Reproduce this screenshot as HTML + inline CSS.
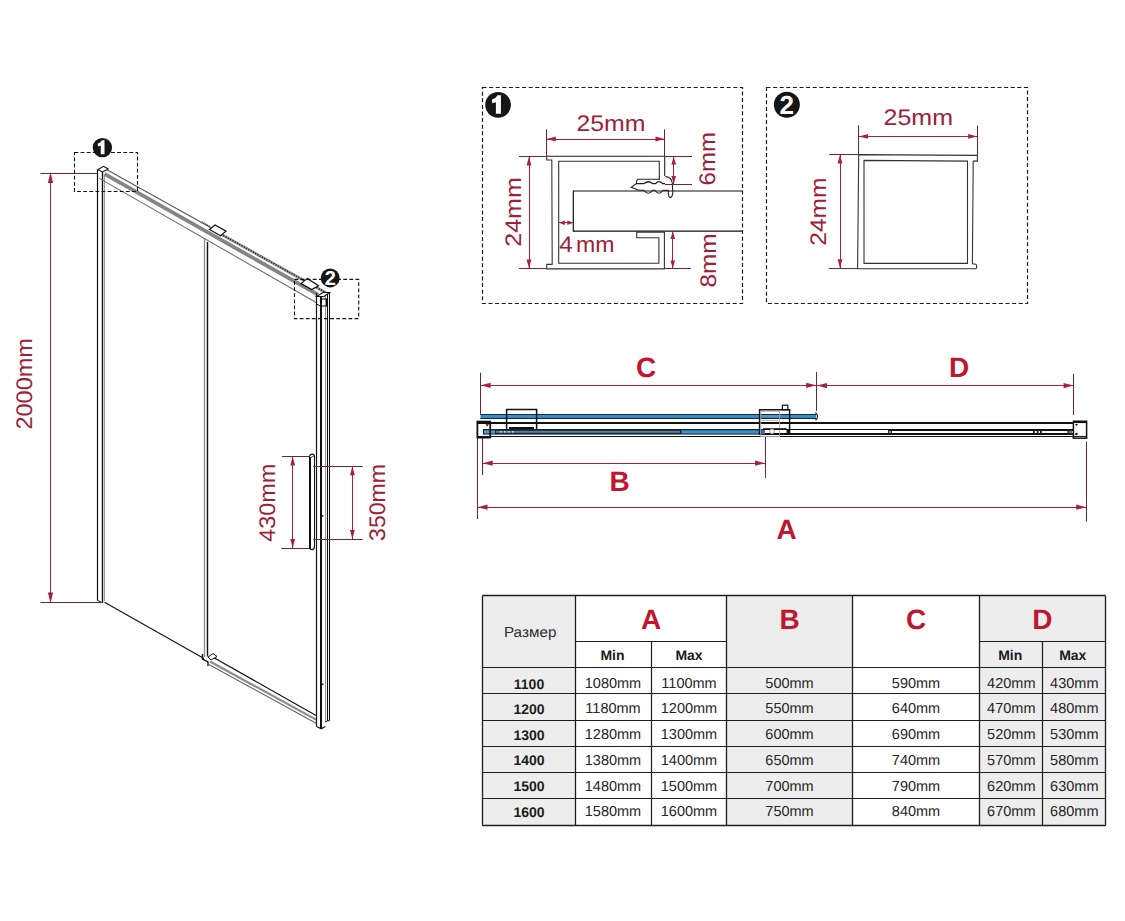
<!DOCTYPE html>
<html><head><meta charset="utf-8"><title>Shower door dimensions</title>
<style>
html,body{margin:0;padding:0;background:#fff;}
svg{display:block;}
text{font-family:"Liberation Sans",sans-serif;text-rendering:geometricPrecision;}
</style></head><body>
<svg width="1125" height="921" viewBox="0 0 1125 921">
<rect x="0" y="0" width="1125" height="921" fill="#fff"/>
<line x1="40.5" y1="173.5" x2="97.7" y2="173.5" stroke="#70243a" stroke-width="1.1" />
<line x1="50.5" y1="173" x2="50.5" y2="603" stroke="#a8213a" stroke-width="1" />
<line x1="40.5" y1="602.5" x2="101" y2="602.5" stroke="#70243a" stroke-width="1.1" />
<polygon points="50.5,172 47.9,183 53.1,183" fill="#a8213a" stroke="none" stroke-width="1"/>
<polygon points="50.5,603.5 47.9,592.5 53.1,592.5" fill="#a8213a" stroke="none" stroke-width="1"/>
<text x="31.8" y="383.8" font-size="22.5" fill="#9c2139" font-weight="normal" text-anchor="middle" textLength="91.5" lengthAdjust="spacingAndGlyphs" transform="rotate(-90 31.8 383.8)" >2000mm</text>
<line x1="97.5" y1="170" x2="97.5" y2="600.5" stroke="#111" stroke-width="1.2" />
<line x1="102.5" y1="172" x2="102.5" y2="603" stroke="#111" stroke-width="1.4" />
<line x1="104.5" y1="176" x2="104.5" y2="601" stroke="#999" stroke-width="1" />
<path d="M97.7,169.8 L103.6,166.3 L108.2,169 L102.6,172 Z" fill="#fff" stroke="#111" stroke-width="1.1" />
<path d="M97.5,600.3 L101.5,602.3" fill="none" stroke="#111" stroke-width="1" />
<line x1="104.5" y1="602.3" x2="204" y2="658.5" stroke="#111" stroke-width="1.1" />
<line x1="106" y1="169.208" x2="216" y2="230.588" stroke="#5a5a5a" stroke-width="1.1" />
<line x1="104.5" y1="173.86700000000002" x2="318" y2="294.70799999999997" stroke="#858585" stroke-width="3.8" />
<line x1="99" y1="178.137" x2="317" y2="303.051" stroke="#6f6f6f" stroke-width="1.1" />
<line x1="212" y1="229.156" x2="326" y2="292.76800000000003" stroke="#9a9a9a" stroke-width="2.8"/>
<line x1="212" y1="229.156" x2="326" y2="292.76800000000003" stroke="#1a1a1a" stroke-width="1.5" stroke-dasharray="1.1,1.5"/>
<path d="M209.5,229.5 L215,225 L226,231.2 L220.5,235.7 Z" fill="#fff" stroke="#111" stroke-width="1.2" />
<line x1="201.7" y1="222" x2="209.5" y2="226.5" stroke="#333" stroke-width="2" stroke-dasharray="1,1"/>
<path d="M301,283.6 L307.4,278.4 L318.5,285.7 L311.7,289.5 Z" fill="#fff" stroke="#111" stroke-width="1.2" />
<line x1="204.5" y1="239" x2="204.5" y2="657" stroke="#8a8a8a" stroke-width="1.3" />
<line x1="207.5" y1="242" x2="207.5" y2="656.5" stroke="#111" stroke-width="1.4" />
<path d="M202.5,654 L202.5,659 L208,662 L208,666" fill="none" stroke="#111" stroke-width="1.4" />
<path d="M208,657 L213,653.5 L217,656.5 L211,660 Z" fill="#fff" stroke="#111" stroke-width="1" />
<line x1="214.4" y1="657.9" x2="316" y2="715.6" stroke="#111" stroke-width="1.2" />
<line x1="210" y1="661.5" x2="316" y2="719.6" stroke="#8c8c8c" stroke-width="2.2" />
<line x1="207.9" y1="663.9" x2="316" y2="723.2" stroke="#666" stroke-width="1.1" />
<line x1="316.5" y1="293" x2="316.5" y2="726.5" stroke="#111" stroke-width="1.2" />
<line x1="321.0" y1="296" x2="321.0" y2="728.5" stroke="#111" stroke-width="2" />
<line x1="325.5" y1="296" x2="325.5" y2="722" stroke="#999" stroke-width="1" />
<line x1="327.5" y1="293" x2="327.5" y2="721" stroke="#111" stroke-width="1.1" />
<line x1="329.5" y1="292" x2="329.5" y2="720.5" stroke="#111" stroke-width="1" />
<path d="M316.6,726.5 L321.2,728.8 L325.4,726.5" fill="none" stroke="#111" stroke-width="1.1" />
<path d="M325.4,722 L327.6,720.8 L329.6,720.6" fill="none" stroke="#111" stroke-width="1" />
<path d="M316.6,296.5 L323,292.5 L329.6,292.5 L324,296.5 Z" fill="#fff" stroke="#111" stroke-width="1.1" />
<rect x="320.5" y="299" width="6" height="7" fill="none" stroke="#111" stroke-width="1.1" />
<line x1="316.6" y1="304" x2="321.2" y2="306.5" stroke="#111" stroke-width="1" />
<line x1="321.2" y1="516.7" x2="323.5" y2="515.5" stroke="#111" stroke-width="1.4" />
<line x1="321.2" y1="684.8" x2="323.5" y2="683.8" stroke="#111" stroke-width="1.4" />
<line x1="310.0" y1="457" x2="310.0" y2="549" stroke="#111" stroke-width="2" />
<line x1="314.5" y1="457" x2="314.5" y2="547.5" stroke="#111" stroke-width="1" />
<path d="M309.3,457 Q310,454 312.6,454.1 Q315,454.4 314.5,458" fill="none" stroke="#111" stroke-width="1.1" />
<path d="M311,457.5 Q312.5,456 314.5,456" fill="none" stroke="#111" stroke-width="0.8" />
<path d="M309.5,548 Q310.5,550 312.5,549.6 Q314.6,549 314.5,546" fill="none" stroke="#111" stroke-width="1.2" />
<line x1="282" y1="456.5" x2="309" y2="456.5" stroke="#70243a" stroke-width="1" />
<line x1="281.3" y1="548.5" x2="309" y2="548.5" stroke="#70243a" stroke-width="1" />
<line x1="292.5" y1="457" x2="292.5" y2="548" stroke="#a8213a" stroke-width="1" />
<polygon points="292.7,456.5 290.3,465.5 295.09999999999997,465.5" fill="#a8213a" stroke="none" stroke-width="1"/>
<polygon points="292.7,548 290.3,539 295.09999999999997,539" fill="#a8213a" stroke="none" stroke-width="1"/>
<text x="275.3" y="502.7" font-size="22.5" fill="#9c2139" font-weight="normal" text-anchor="middle" textLength="78" lengthAdjust="spacingAndGlyphs" transform="rotate(-90 275.3 502.7)" >430mm</text>
<line x1="313.3" y1="466.5" x2="362.7" y2="466.5" stroke="#70243a" stroke-width="1" />
<line x1="313.3" y1="539.5" x2="362.7" y2="539.5" stroke="#70243a" stroke-width="1" />
<line x1="352.5" y1="466.5" x2="352.5" y2="539" stroke="#a8213a" stroke-width="1" />
<polygon points="352.4,466.3 350.0,475.3 354.79999999999995,475.3" fill="#a8213a" stroke="none" stroke-width="1"/>
<polygon points="352.4,539 350.0,530 354.79999999999995,530" fill="#a8213a" stroke="none" stroke-width="1"/>
<text x="385.3" y="502.4" font-size="22.5" fill="#9c2139" font-weight="normal" text-anchor="middle" textLength="77" lengthAdjust="spacingAndGlyphs" transform="rotate(-90 385.3 502.4)" >350mm</text>
<rect x="74.5" y="152.5" width="63" height="39" fill="none" stroke="#111" stroke-width="1.1" stroke-dasharray="3.8,2.3"/>
<rect x="294.5" y="279.4" width="64.2" height="39.2" fill="none" stroke="#111" stroke-width="1.1" stroke-dasharray="3.8,2.3"/>
<circle cx="102.4" cy="147.6" r="9.7" fill="#161616"/>
<polygon points="104.51,140.34 104.51,154.33 100.75,154.33 100.75,145.61 98.04,146.43 97.66,143.8 100.44,142.3 101.95,140.34" fill="#fff" stroke="none" stroke-width="1"/>
<circle cx="330.2" cy="277.9" r="9.5" fill="#161616"/>
<text x="330.2" y="285.09999999999997" font-size="20" fill="#fff" font-weight="bold" text-anchor="middle" >2</text>
<rect x="482.5" y="87.5" width="260" height="216" fill="none" stroke="#1a1a1a" stroke-width="1.2" stroke-dasharray="4,2.6"/>
<circle cx="498.1" cy="104.85" r="12.9" fill="#161616"/>
<polygon points="500.9,95.2 500.9,113.8 495.9,113.8 495.9,102.2 492.3,103.3 491.8,99.8 495.5,97.8 497.5,95.2" fill="#fff" stroke="none" stroke-width="1"/>
<path d="M546.7,156.3 L664.7,156.3 L664.7,176" fill="none" stroke="#222" stroke-width="1.1" />
<path d="M659.3,180 L659.3,161.3 L558.7,161.3 L558.7,263.3 L658.9,263.3 L658.9,237.8 L636.7,237.8 L636.7,232.2 L664.4,232.2 L664.4,268.9 L546.7,268.9 L546.7,264.4 L552.2,264.4 L551.8,160 L546.7,160 L546.7,156.3" fill="none" stroke="#333" stroke-width="1.1" />
<path d="M742.4,191 L573.3,191 L573.3,231.2 L742.4,231.2" fill="none" stroke="#111" stroke-width="1.2" />
<path d="M659.5,179.3 L637.5,179.3 Q636.3,181 636.5,183.4 L631.2,187.3 L637.5,189.8 L640,190.3" fill="none" stroke="#222" stroke-width="1.1" />
<path d="M636.5,183.6 L644,183.6 Q648.5,179.8 652.5,183.6 L655.5,183.6 Q659,179.8 662.5,183.6 L665,183.6" fill="none" stroke="#222" stroke-width="1.3" />
<path d="M640,190.4 L643.8,190.4 Q648.5,196 652.5,190.4 L655,190.4 Q659,196 663,190.4 L668.5,190.4" fill="none" stroke="#333" stroke-width="1.1" />
<path d="M665.5,176.4 Q671.5,177.5 672.3,183 L672.8,193.5 Q671.8,198.2 669.6,197.3 Q668,195.5 668.4,190.6" fill="none" stroke="#222" stroke-width="1.1" />
<line x1="546.5" y1="129.3" x2="546.5" y2="156.7" stroke="#70243a" stroke-width="1" />
<line x1="664.5" y1="129.3" x2="664.5" y2="156.3" stroke="#70243a" stroke-width="1" />
<line x1="547" y1="139.5" x2="664" y2="139.5" stroke="#a8213a" stroke-width="1" />
<polygon points="546.8,139 555.8,136.6 555.8,141.4" fill="#a8213a" stroke="none" stroke-width="1"/>
<polygon points="664.5,139 655.5,136.6 655.5,141.4" fill="#a8213a" stroke="none" stroke-width="1"/>
<text x="611" y="130.7" font-size="22.5" fill="#9c2139" font-weight="normal" text-anchor="middle" textLength="69" lengthAdjust="spacingAndGlyphs" >25mm</text>
<line x1="519" y1="156.5" x2="546.6" y2="156.5" stroke="#70243a" stroke-width="1" />
<line x1="518.9" y1="268.5" x2="546.6" y2="268.5" stroke="#70243a" stroke-width="1" />
<line x1="529.5" y1="157" x2="529.5" y2="268" stroke="#a8213a" stroke-width="1" />
<polygon points="529,156.6 526.6,165.6 531.4,165.6" fill="#a8213a" stroke="none" stroke-width="1"/>
<polygon points="529,268.4 526.6,259.4 531.4,259.4" fill="#a8213a" stroke="none" stroke-width="1"/>
<text x="520.5" y="212" font-size="22.5" fill="#9c2139" font-weight="normal" text-anchor="middle" textLength="69.5" lengthAdjust="spacingAndGlyphs" transform="rotate(-90 520.5 212)" >24mm</text>
<line x1="664.7" y1="156.5" x2="692" y2="156.5" stroke="#70243a" stroke-width="1" />
<line x1="665" y1="184.5" x2="692" y2="184.5" stroke="#70243a" stroke-width="1" />
<line x1="673.5" y1="157" x2="673.5" y2="184" stroke="#a8213a" stroke-width="1" />
<polygon points="673.7,156.6 671.4000000000001,164.6 676.0,164.6" fill="#a8213a" stroke="none" stroke-width="1"/>
<polygon points="673.7,184 671.4000000000001,176 676.0,176" fill="#a8213a" stroke="none" stroke-width="1"/>
<text x="715.5" y="158.7" font-size="22.5" fill="#9c2139" font-weight="normal" text-anchor="middle" textLength="53.5" lengthAdjust="spacingAndGlyphs" transform="rotate(-90 715.5 158.7)" >6mm</text>
<line x1="664.4" y1="268.5" x2="691" y2="268.5" stroke="#70243a" stroke-width="1" />
<line x1="672.5" y1="232" x2="672.5" y2="268.5" stroke="#a8213a" stroke-width="1" />
<polygon points="672.8,231 670.5,239 675.0999999999999,239" fill="#a8213a" stroke="none" stroke-width="1"/>
<polygon points="672.8,268.5 670.5,260.5 675.0999999999999,260.5" fill="#a8213a" stroke="none" stroke-width="1"/>
<text x="715.6" y="260.5" font-size="22.5" fill="#9c2139" font-weight="normal" text-anchor="middle" textLength="54" lengthAdjust="spacingAndGlyphs" transform="rotate(-90 715.6 260.5)" >8mm</text>
<line x1="559" y1="222.5" x2="573" y2="222.5" stroke="#a8213a" stroke-width="1" />
<polygon points="558.9,222.8 564.9,220.5 564.9,225.10000000000002" fill="#a8213a" stroke="none" stroke-width="1"/>
<polygon points="573.3,222.8 567.3,220.5 567.3,225.10000000000002" fill="#a8213a" stroke="none" stroke-width="1"/>
<text x="559.3" y="251.6" font-size="22.5" fill="#9c2139" font-weight="normal" text-anchor="start" textLength="13.5" lengthAdjust="spacingAndGlyphs" >4</text>
<text x="576" y="251.6" font-size="22.5" fill="#9c2139" font-weight="normal" text-anchor="start" textLength="38.5" lengthAdjust="spacingAndGlyphs" >mm</text>
<rect x="766.5" y="87.5" width="261" height="216" fill="none" stroke="#1a1a1a" stroke-width="1.2" stroke-dasharray="4,2.6"/>
<circle cx="786.85" cy="104.75" r="13" fill="#161616"/>
<text x="786.85" y="114.11" font-size="26" fill="#fff" font-weight="bold" text-anchor="middle" >2</text>
<path d="M858.7,154.6 L977.4,155.4 L977.4,161.1 L973.2,161.1 L972.4,263.8 L976,264.2 Q977.5,266.5 976,268.7 L857.6,268.7 Z" fill="none" stroke="#333" stroke-width="1.1" />
<path d="M864,160.4 L967.5,161.1 L967.5,263.4 L864,263.4 Z" fill="none" stroke="#333" stroke-width="1.1" />
<line x1="858.5" y1="125.3" x2="858.5" y2="156" stroke="#70243a" stroke-width="1" />
<line x1="977.5" y1="125.5" x2="977.5" y2="156" stroke="#70243a" stroke-width="1" />
<line x1="859" y1="136.5" x2="977" y2="136.5" stroke="#a8213a" stroke-width="1" />
<polygon points="858.9,136.4 867.9,134.0 867.9,138.8" fill="#a8213a" stroke="none" stroke-width="1"/>
<polygon points="977.2,136.4 968.2,134.0 968.2,138.8" fill="#a8213a" stroke="none" stroke-width="1"/>
<text x="918.3" y="125.2" font-size="22.5" fill="#9c2139" font-weight="normal" text-anchor="middle" textLength="69.5" lengthAdjust="spacingAndGlyphs" >25mm</text>
<line x1="829.3" y1="154.5" x2="858.7" y2="154.5" stroke="#70243a" stroke-width="1" />
<line x1="828.8" y1="268.5" x2="858" y2="268.5" stroke="#70243a" stroke-width="1" />
<line x1="840.5" y1="155" x2="840.5" y2="268" stroke="#a8213a" stroke-width="1" />
<polygon points="840,154.6 837.6,163.6 842.4,163.6" fill="#a8213a" stroke="none" stroke-width="1"/>
<polygon points="840,268.3 837.6,259.3 842.4,259.3" fill="#a8213a" stroke="none" stroke-width="1"/>
<text x="826.4" y="211.6" font-size="22.5" fill="#9c2139" font-weight="normal" text-anchor="middle" textLength="68.3" lengthAdjust="spacingAndGlyphs" transform="rotate(-90 826.4 211.6)" >24mm</text>
<line x1="480.5" y1="372.7" x2="480.5" y2="415" stroke="#70243a" stroke-width="1" />
<line x1="481" y1="385.5" x2="816" y2="385.5" stroke="#a8213a" stroke-width="1" />
<polygon points="480.6,385.3 490.6,382.7 490.6,387.90000000000003" fill="#a8213a" stroke="none" stroke-width="1"/>
<polygon points="816.2,385.3 806.2,382.7 806.2,387.90000000000003" fill="#a8213a" stroke="none" stroke-width="1"/>
<text x="646" y="376.8" font-size="28" fill="#c0162f" font-weight="bold" text-anchor="middle" >C</text>
<line x1="816.5" y1="372" x2="816.5" y2="411" stroke="#70243a" stroke-width="1" />
<line x1="1073.5" y1="374" x2="1073.5" y2="415" stroke="#70243a" stroke-width="1" />
<line x1="817" y1="385.5" x2="1073.5" y2="385.5" stroke="#a8213a" stroke-width="1" />
<polygon points="817,385.6 827,383.0 827,388.20000000000005" fill="#a8213a" stroke="none" stroke-width="1"/>
<polygon points="1073.6,385.6 1063.6,383.0 1063.6,388.20000000000005" fill="#a8213a" stroke="none" stroke-width="1"/>
<text x="959.2" y="377" font-size="28" fill="#c0162f" font-weight="bold" text-anchor="middle" >D</text>
<line x1="482.5" y1="437" x2="482.5" y2="475" stroke="#70243a" stroke-width="1" />
<line x1="765.5" y1="436" x2="765.5" y2="478" stroke="#70243a" stroke-width="1" />
<line x1="483" y1="463.5" x2="765" y2="463.5" stroke="#a8213a" stroke-width="1" />
<polygon points="482.7,463.2 492.7,460.59999999999997 492.7,465.8" fill="#a8213a" stroke="none" stroke-width="1"/>
<polygon points="765.1,463.2 755.1,460.59999999999997 755.1,465.8" fill="#a8213a" stroke="none" stroke-width="1"/>
<text x="619.6" y="491.1" font-size="28" fill="#c0162f" font-weight="bold" text-anchor="middle" >B</text>
<line x1="477.5" y1="438" x2="477.5" y2="519" stroke="#70243a" stroke-width="1" />
<line x1="1086.5" y1="441.5" x2="1086.5" y2="521.6" stroke="#70243a" stroke-width="1" />
<line x1="477.5" y1="507.5" x2="1086.2" y2="507.5" stroke="#a8213a" stroke-width="1" />
<polygon points="477.5,507.2 487.5,504.59999999999997 487.5,509.8" fill="#a8213a" stroke="none" stroke-width="1"/>
<polygon points="1086.2,507.2 1076.2,504.59999999999997 1076.2,509.8" fill="#a8213a" stroke="none" stroke-width="1"/>
<text x="786.5" y="539.3" font-size="28" fill="#c0162f" font-weight="bold" text-anchor="middle" >A</text>
<rect x="480.5" y="414" width="335.5" height="4.8" fill="#3a8dc3" stroke="none" stroke-width="1" />
<line x1="480.5" y1="414.5" x2="816" y2="414.5" stroke="#10243a" stroke-width="0.9" />
<line x1="480.5" y1="418.5" x2="816" y2="418.5" stroke="#10243a" stroke-width="1.1" />
<path d="M815.5,412.5 Q819.5,416.4 815.5,420.3" fill="none" stroke="#222" stroke-width="1.2" />
<line x1="477" y1="423.0" x2="1074" y2="423.0" stroke="#111" stroke-width="2" />
<rect x="483" y="429" width="281" height="5.6" fill="#10243a" stroke="none" stroke-width="1" />
<rect x="496" y="430.8" width="184" height="2" fill="#5d7f9b" stroke="none" stroke-width="1" />
<rect x="681.5" y="430.2" width="82.5" height="3.4" fill="#3a8dc3" stroke="none" stroke-width="1" />
<rect x="484" y="430.3" width="11" height="3.2" fill="#4d9ccd" stroke="none" stroke-width="1" />
<rect x="500" y="431" width="1.6" height="1.6" fill="#c8d8e4" stroke="none" stroke-width="1" />
<rect x="504" y="431" width="1.6" height="1.6" fill="#c8d8e4" stroke="none" stroke-width="1" />
<rect x="508" y="431" width="1.6" height="1.6" fill="#c8d8e4" stroke="none" stroke-width="1" />
<rect x="512" y="431" width="1.6" height="1.6" fill="#c8d8e4" stroke="none" stroke-width="1" />
<line x1="764" y1="429.5" x2="1074" y2="429.5" stroke="#111" stroke-width="1.2" />
<line x1="888" y1="430.0" x2="1074" y2="430.0" stroke="#111" stroke-width="2" />
<line x1="764" y1="434.0" x2="1074" y2="434.0" stroke="#111" stroke-width="2" />
<line x1="477" y1="436.5" x2="1074" y2="436.5" stroke="#111" stroke-width="1.2" />
<rect x="888" y="430.5" width="1.5" height="3" fill="#333" stroke="none" stroke-width="1" />
<rect x="890.5" y="430.5" width="1.5" height="3" fill="#333" stroke="none" stroke-width="1" />
<rect x="1033" y="430.5" width="1.8" height="3" fill="#222" stroke="none" stroke-width="1" />
<rect x="1036.8" y="430.5" width="1.8" height="3" fill="#222" stroke="none" stroke-width="1" />
<rect x="1040" y="430.5" width="1.8" height="3" fill="#222" stroke="none" stroke-width="1" />
<rect x="1067.5" y="430.5" width="2" height="3" fill="#222" stroke="none" stroke-width="1" />
<rect x="1070" y="430.5" width="2" height="3" fill="#666" stroke="none" stroke-width="1" />
<rect x="477.4" y="421.6" width="12.8" height="16" fill="none" stroke="#111" stroke-width="1.8" />
<line x1="477.4" y1="436.5" x2="490.2" y2="436.5" stroke="#111" stroke-width="1" />
<polygon points="485.5,424.2 489,424.2 487.2,426.5" fill="#111" stroke="none" stroke-width="1"/>
<path d="M506.6,429 L506.6,409.6 L536.6,409.6 L536.6,429" fill="none" stroke="#111" stroke-width="1.5" />
<line x1="509" y1="428.0" x2="534" y2="428.0" stroke="#111" stroke-width="2" />
<rect x="759.6" y="409.8" width="30" height="24.4" fill="none" stroke="#111" stroke-width="1.5" />
<rect x="782.4" y="405.2" width="5.4" height="4.4" fill="none" stroke="#111" stroke-width="1.2" />
<rect x="760.8" y="411.3" width="18.8" height="25.3" fill="none" stroke="#b0b0b0" stroke-width="0.9" />
<rect x="762" y="415" width="16" height="2.6" fill="#5b8fb5" stroke="none" stroke-width="1" />
<line x1="762" y1="420.5" x2="778" y2="420.5" stroke="#bbb" stroke-width="1" />
<line x1="763" y1="429.0" x2="786.4" y2="429.0" stroke="#111" stroke-width="1.6" />
<rect x="761" y="430" width="4" height="4" fill="#2f6f9f" stroke="none" stroke-width="1" />
<circle cx="772" cy="431.4" r="2.4" fill="#f4f4f4" stroke="#9a9a9a" stroke-width="0.9"/>
<rect x="786.5" y="430" width="2.6" height="3.6" fill="#111" stroke="none" stroke-width="1" />
<rect x="1073.4" y="421.3" width="13.2" height="16.9" fill="none" stroke="#111" stroke-width="1.5" />
<line x1="1073.4" y1="422.0" x2="1086.6" y2="422.0" stroke="#111" stroke-width="2.2" />
<line x1="1073.4" y1="436.5" x2="1086.6" y2="436.5" stroke="#111" stroke-width="1" />
<polygon points="1075,424 1078,424 1076.5,426" fill="#111" stroke="none" stroke-width="1"/>
<circle cx="1076.4" cy="434" r="1.3" fill="#111"/>
<rect x="482.5" y="595.5" width="93" height="230" fill="#ededed" stroke="none" stroke-width="1" />
<rect x="726.5" y="595.5" width="126" height="230" fill="#ededed" stroke="none" stroke-width="1" />
<rect x="979.5" y="595.5" width="126" height="230" fill="#ededed" stroke="none" stroke-width="1" />
<line x1="482.5" y1="595.5" x2="1105.5" y2="595.5" stroke="#1c1c1c" stroke-width="1.3" />
<line x1="482.5" y1="825.5" x2="1105.5" y2="825.5" stroke="#1c1c1c" stroke-width="1.3" />
<line x1="575.5" y1="641.5" x2="726.5" y2="641.5" stroke="#1c1c1c" stroke-width="1.2" />
<line x1="979.5" y1="641.5" x2="1105.5" y2="641.5" stroke="#1c1c1c" stroke-width="1.2" />
<line x1="482.5" y1="667.5" x2="1105.5" y2="667.5" stroke="#1c1c1c" stroke-width="1.2" />
<line x1="482.5" y1="693.5" x2="1105.5" y2="693.5" stroke="#1c1c1c" stroke-width="1.2" />
<line x1="482.5" y1="720.5" x2="1105.5" y2="720.5" stroke="#1c1c1c" stroke-width="1.2" />
<line x1="482.5" y1="746.5" x2="1105.5" y2="746.5" stroke="#1c1c1c" stroke-width="1.2" />
<line x1="482.5" y1="772.5" x2="1105.5" y2="772.5" stroke="#1c1c1c" stroke-width="1.2" />
<line x1="482.5" y1="798.5" x2="1105.5" y2="798.5" stroke="#1c1c1c" stroke-width="1.2" />
<line x1="482.5" y1="595.5" x2="482.5" y2="825.5" stroke="#1c1c1c" stroke-width="1.3" />
<line x1="575.5" y1="595.5" x2="575.5" y2="825.5" stroke="#1c1c1c" stroke-width="1.3" />
<line x1="726.5" y1="595.5" x2="726.5" y2="825.5" stroke="#1c1c1c" stroke-width="1.3" />
<line x1="852.5" y1="595.5" x2="852.5" y2="825.5" stroke="#1c1c1c" stroke-width="1.3" />
<line x1="979.5" y1="595.5" x2="979.5" y2="825.5" stroke="#1c1c1c" stroke-width="1.3" />
<line x1="1105.5" y1="595.5" x2="1105.5" y2="825.5" stroke="#1c1c1c" stroke-width="1.3" />
<line x1="651.5" y1="641.5" x2="651.5" y2="825.5" stroke="#1c1c1c" stroke-width="1.2" />
<line x1="1042.5" y1="641.5" x2="1042.5" y2="825.5" stroke="#1c1c1c" stroke-width="1.2" />
<text x="530.2" y="636.6" font-size="14.5" fill="#2e2e2e" font-weight="normal" text-anchor="middle" textLength="52.5" lengthAdjust="spacingAndGlyphs" >Размер</text>
<text x="651" y="628.7" font-size="28" fill="#c0162f" font-weight="bold" text-anchor="middle" >A</text>
<text x="789.5" y="628.7" font-size="28" fill="#c0162f" font-weight="bold" text-anchor="middle" >B</text>
<text x="916" y="628.7" font-size="28" fill="#c0162f" font-weight="bold" text-anchor="middle" >C</text>
<text x="1042.3" y="628.7" font-size="28" fill="#c0162f" font-weight="bold" text-anchor="middle" >D</text>
<text x="612.5" y="659.6" font-size="14" fill="#1c1c1c" font-weight="bold" text-anchor="middle" >Min</text>
<text x="689" y="659.6" font-size="14" fill="#1c1c1c" font-weight="bold" text-anchor="middle" >Max</text>
<text x="1010.2" y="659.6" font-size="14" fill="#1c1c1c" font-weight="bold" text-anchor="middle" >Min</text>
<text x="1072.8" y="659.6" font-size="14" fill="#1c1c1c" font-weight="bold" text-anchor="middle" >Max</text>
<text x="529" y="688.5" font-size="14" fill="#1c1c1c" font-weight="bold" text-anchor="middle" >1100</text>
<text x="613" y="688.1" font-size="14.5" fill="#262626" font-weight="normal" text-anchor="middle" >1080mm</text>
<text x="689" y="688.1" font-size="14.5" fill="#262626" font-weight="normal" text-anchor="middle" >1100mm</text>
<text x="789.5" y="688.1" font-size="14.5" fill="#262626" font-weight="normal" text-anchor="middle" >500mm</text>
<text x="916" y="688.1" font-size="14.5" fill="#262626" font-weight="normal" text-anchor="middle" >590mm</text>
<text x="1011.3" y="688.1" font-size="14.5" fill="#262626" font-weight="normal" text-anchor="middle" >420mm</text>
<text x="1074.3" y="688.1" font-size="14.5" fill="#262626" font-weight="normal" text-anchor="middle" >430mm</text>
<text x="529" y="713.8" font-size="14" fill="#1c1c1c" font-weight="bold" text-anchor="middle" >1200</text>
<text x="613" y="713.4" font-size="14.5" fill="#262626" font-weight="normal" text-anchor="middle" >1180mm</text>
<text x="689" y="713.4" font-size="14.5" fill="#262626" font-weight="normal" text-anchor="middle" >1200mm</text>
<text x="789.5" y="713.4" font-size="14.5" fill="#262626" font-weight="normal" text-anchor="middle" >550mm</text>
<text x="916" y="713.4" font-size="14.5" fill="#262626" font-weight="normal" text-anchor="middle" >640mm</text>
<text x="1011.3" y="713.4" font-size="14.5" fill="#262626" font-weight="normal" text-anchor="middle" >470mm</text>
<text x="1074.3" y="713.4" font-size="14.5" fill="#262626" font-weight="normal" text-anchor="middle" >480mm</text>
<text x="529" y="739.5" font-size="14" fill="#1c1c1c" font-weight="bold" text-anchor="middle" >1300</text>
<text x="613" y="739.1" font-size="14.5" fill="#262626" font-weight="normal" text-anchor="middle" >1280mm</text>
<text x="689" y="739.1" font-size="14.5" fill="#262626" font-weight="normal" text-anchor="middle" >1300mm</text>
<text x="789.5" y="739.1" font-size="14.5" fill="#262626" font-weight="normal" text-anchor="middle" >600mm</text>
<text x="916" y="739.1" font-size="14.5" fill="#262626" font-weight="normal" text-anchor="middle" >690mm</text>
<text x="1011.3" y="739.1" font-size="14.5" fill="#262626" font-weight="normal" text-anchor="middle" >520mm</text>
<text x="1074.3" y="739.1" font-size="14.5" fill="#262626" font-weight="normal" text-anchor="middle" >530mm</text>
<text x="529" y="765.3" font-size="14" fill="#1c1c1c" font-weight="bold" text-anchor="middle" >1400</text>
<text x="613" y="764.9" font-size="14.5" fill="#262626" font-weight="normal" text-anchor="middle" >1380mm</text>
<text x="689" y="764.9" font-size="14.5" fill="#262626" font-weight="normal" text-anchor="middle" >1400mm</text>
<text x="789.5" y="764.9" font-size="14.5" fill="#262626" font-weight="normal" text-anchor="middle" >650mm</text>
<text x="916" y="764.9" font-size="14.5" fill="#262626" font-weight="normal" text-anchor="middle" >740mm</text>
<text x="1011.3" y="764.9" font-size="14.5" fill="#262626" font-weight="normal" text-anchor="middle" >570mm</text>
<text x="1074.3" y="764.9" font-size="14.5" fill="#262626" font-weight="normal" text-anchor="middle" >580mm</text>
<text x="529" y="790.9" font-size="14" fill="#1c1c1c" font-weight="bold" text-anchor="middle" >1500</text>
<text x="613" y="790.5" font-size="14.5" fill="#262626" font-weight="normal" text-anchor="middle" >1480mm</text>
<text x="689" y="790.5" font-size="14.5" fill="#262626" font-weight="normal" text-anchor="middle" >1500mm</text>
<text x="789.5" y="790.5" font-size="14.5" fill="#262626" font-weight="normal" text-anchor="middle" >700mm</text>
<text x="916" y="790.5" font-size="14.5" fill="#262626" font-weight="normal" text-anchor="middle" >790mm</text>
<text x="1011.3" y="790.5" font-size="14.5" fill="#262626" font-weight="normal" text-anchor="middle" >620mm</text>
<text x="1074.3" y="790.5" font-size="14.5" fill="#262626" font-weight="normal" text-anchor="middle" >630mm</text>
<text x="529" y="816.5" font-size="14" fill="#1c1c1c" font-weight="bold" text-anchor="middle" >1600</text>
<text x="613" y="816.1" font-size="14.5" fill="#262626" font-weight="normal" text-anchor="middle" >1580mm</text>
<text x="689" y="816.1" font-size="14.5" fill="#262626" font-weight="normal" text-anchor="middle" >1600mm</text>
<text x="789.5" y="816.1" font-size="14.5" fill="#262626" font-weight="normal" text-anchor="middle" >750mm</text>
<text x="916" y="816.1" font-size="14.5" fill="#262626" font-weight="normal" text-anchor="middle" >840mm</text>
<text x="1011.3" y="816.1" font-size="14.5" fill="#262626" font-weight="normal" text-anchor="middle" >670mm</text>
<text x="1074.3" y="816.1" font-size="14.5" fill="#262626" font-weight="normal" text-anchor="middle" >680mm</text>
</svg>
</body></html>
